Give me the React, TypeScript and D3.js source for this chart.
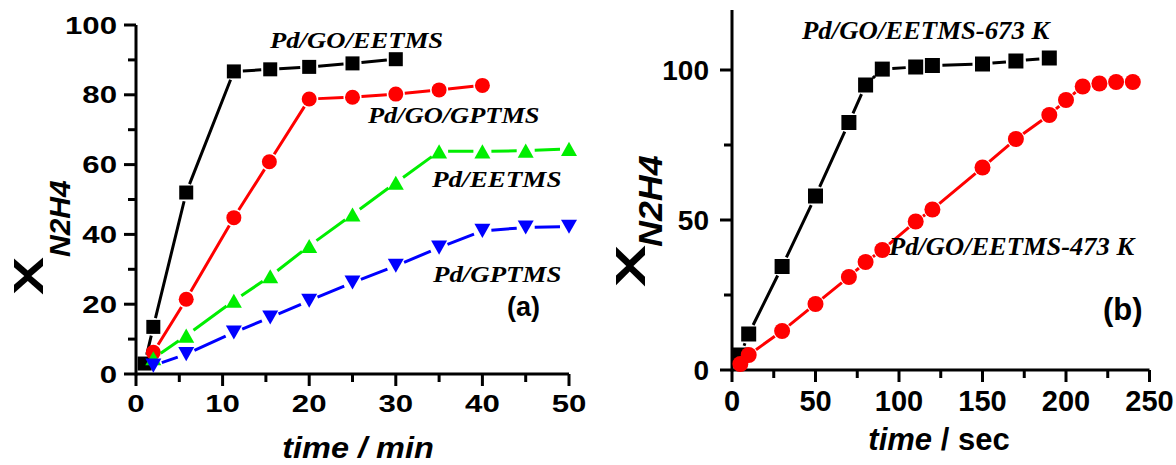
import React from "react";
import * as d3 from "d3";

// ---------- data: panel (a) ----------
const aTimeGOEETMS = [1, 2, 5.8, 11.3, 15.5, 20, 25, 30];
const aValGOEETMS = [3, 13.5, 52, 86.7, 87.3, 88, 89, 90.2];
const aTimeGOGPTMS = [2, 5.8, 11.3, 15.4, 20, 25, 30, 35, 40];
const aValGOGPTMS = [6.2, 21.4, 44.8, 60.8, 78.8, 79.3, 80.2, 81.4, 82.7];
const aTimeEETMS = [2, 5.8, 11.3, 15.5, 20, 25, 30, 35, 40, 45, 50];
const aValEETMS = [4.5, 11, 21, 28, 36.7, 45.7, 54.8, 63.8, 63.8, 64, 64.5];
const aTimeGPTMS = [2, 5.8, 11.3, 15.5, 20, 25, 30, 35, 40, 45, 50];
const aValGPTMS = [2.4, 5.7, 11.9, 16.2, 21, 26.2, 31, 36.2, 41, 42, 42.2];
const aXTicks = [0, 10, 20, 30, 40, 50];
const aYTicks = [0, 20, 40, 60, 80, 100];

// ---------- data: panel (b) ----------
const bTime673 = [5, 10, 30, 50, 70, 80, 90, 110, 120, 150, 170, 190];
const bVal673 = [5, 12, 34.5, 58, 82.5, 95, 100.3, 101, 101.5, 102, 103, 104];
const bTime473 = [5, 10, 30, 50, 70, 80, 90, 110, 120, 150, 170, 190, 200, 210, 220, 230, 240];
const bVal473 = [2, 5, 13, 22, 31, 36, 40, 49.5, 53.5, 67.5, 77, 85, 90, 94.5, 95.5, 96, 96];
const bXTicks = [0, 50, 100, 150, 200, 250];
const bYTicks = [0, 50, 100];

const SANS = "'Liberation Sans', Arial, sans-serif";
const SERIF = "'Liberation Serif', 'Times New Roman', serif";

type Sc = d3.ScaleLinear<number, number>;

function T(p: {
  x: number; y: number; sx?: number; sy?: number; rot?: number; anchor?: string;
  font?: string; size: number; italic?: boolean; children: React.ReactNode; fill?: string;
}) {
  const { x, y, sx = 1, sy = 1, rot = 0, anchor = "start", font = SANS, size, italic, children, fill = "#000" } = p;
  return (
    <text
      transform={`translate(${x},${y}) rotate(${rot}) scale(${sx},${sy})`}
      textAnchor={anchor}
      fontFamily={font}
      fontSize={size}
      fontWeight="bold"
      fontStyle={italic ? "italic" : "normal"}
      fill={fill}
    >
      {children}
    </text>
  );
}

function Marker({ kind, cx, cy, s, color }: { kind: string; cx: number; cy: number; s: number; color: string }) {
  if (kind === "square") return <rect x={cx - s / 2} y={cy - s / 2} width={s} height={s} fill={color} />;
  if (kind === "circle") return <circle cx={cx} cy={cy} r={s / 2} fill={color} />;
  const h = s * 0.88;
  if (kind === "up")
    return <path d={`M${cx},${cy - h / 2}L${cx + s / 2},${cy + h / 2}L${cx - s / 2},${cy + h / 2}Z`} fill={color} />;
  return <path d={`M${cx},${cy + h / 2}L${cx + s / 2},${cy - h / 2}L${cx - s / 2},${cy - h / 2}Z`} fill={color} />;
}

function Series({ xs, ys, x, y, color, kind, s, gap }: {
  xs: number[]; ys: number[]; x: Sc; y: Sc; color: string; kind: string; s: number; gap: number;
}) {
  const pts = xs.map((t, i) => [x(t), y(ys[i])]);
  const segs: string[] = [];
  for (let i = 0; i < pts.length - 1; i++) {
    const [x1, y1] = pts[i];
    const [x2, y2] = pts[i + 1];
    const L = Math.hypot(x2 - x1, y2 - y1);
    if (L <= 2 * gap + 1) continue;
    const ux = (x2 - x1) / L, uy = (y2 - y1) / L;
    segs.push(`M${x1 + ux * gap},${y1 + uy * gap}L${x2 - ux * gap},${y2 - uy * gap}`);
  }
  return (
    <g>
      <path d={segs.join("")} stroke={color} strokeWidth={3} fill="none" />
      {pts.map(([cx, cy], i) => (
        <Marker key={i} kind={kind} cx={cx} cy={cy} s={s} color={color} />
      ))}
    </g>
  );
}

function Axes({ x, y, xMajor, xMinor, yMajor, yMinor, yTop }: {
  x: Sc; y: Sc; xMajor: number[]; xMinor: number[]; yMajor: number[]; yMinor: number[]; yTop: number;
}) {
  const [x0, x1] = x.range();
  const y0 = y(0);
  return (
    <g stroke="#000" strokeWidth={3}>
      <line x1={x0} x2={x1} y1={y0} y2={y0} />
      <line x1={x0} x2={x0} y1={y0 + 1.5} y2={y(yTop)} />
      {xMajor.map((t) => <line key={"xM" + t} x1={x(t)} x2={x(t)} y1={y0} y2={y0 + 12} />)}
      {xMinor.map((t) => <line key={"xm" + t} x1={x(t)} x2={x(t)} y1={y0} y2={y0 + 8} />)}
      {yMajor.map((v) => <line key={"yM" + v} x1={x0 - 12} x2={x0} y1={y(v)} y2={y(v)} />)}
      {yMinor.map((v) => <line key={"ym" + v} x1={x0 - 8} x2={x0} y1={y(v)} y2={y(v)} />)}
    </g>
  );
}

export default function App() {
  // panel (a)
  const xa = d3.scaleLinear().domain([0, 50]).range([136, 569]);
  const ya = d3.scaleLinear().domain([0, 100]).range([374, 25]);
  const aXMinor = d3.range(5, 50, 10);
  const aYMinor = d3.range(10, 100, 20);
  // panel (b)
  const xb = d3.scaleLinear().domain([0, 250]).range([732, 1149.5]);
  const yb = d3.scaleLinear().domain([0, 120]).range([370, 10]);
  const bXMinor = d3.range(25, 250, 50);
  const bYMinor = [25, 75];

  return (
    <svg width={1176} height={465} style={{ position: "absolute", left: 0, top: 0, background: "#fff" }}>
      <rect width={1176} height={465} fill="#fff" />

      {/* ---------- panel (a) ---------- */}
      <Axes x={xa} y={ya} xMajor={aXTicks} xMinor={aXMinor} yMajor={aYTicks} yMinor={aYMinor} yTop={100} />
      {aYTicks.map((v) => (
        <T key={"ayl" + v} x={117} y={ya(v) + 8.5} sx={1.3} anchor="end" size={24}>{v}</T>
      ))}
      {aXTicks.map((t) => (
        <T key={"axl" + t} x={xa(t)} y={412} sx={1.3} anchor="middle" size={24}>{t}</T>
      ))}
      <T x={358} y={458} sx={1.12} anchor="middle" size={29} italic>time / min</T>
      <T x={43} y={295} rot={-90} sx={1.36} sy={1} size={42}>X</T>
      <T x={70} y={257} rot={-90} size={30} italic>N2H4</T>

      <Series xs={aTimeGOEETMS} ys={aValGOEETMS} x={xa} y={ya} color="#000000" kind="square" s={14} gap={9} />
      <Series xs={aTimeGOGPTMS} ys={aValGOGPTMS} x={xa} y={ya} color="#ff0000" kind="circle" s={15} gap={9} />
      <Series xs={aTimeEETMS} ys={aValEETMS} x={xa} y={ya} color="#00ee00" kind="up" s={16} gap={9} />
      <Series xs={aTimeGPTMS} ys={aValGPTMS} x={xa} y={ya} color="#0000ff" kind="down" s={16} gap={9} />

      <T x={270} y={48} sx={1.11} font={SERIF} size={24} italic>Pd/GO/EETMS</T>
      <T x={368} y={123} sx={1.1} font={SERIF} size={24} italic>Pd/GO/GPTMS</T>
      <T x={432} y={187} sx={1.13} font={SERIF} size={24} italic>Pd/EETMS</T>
      <T x={433} y={282} sx={1.12} font={SERIF} size={24} italic>Pd/GPTMS</T>
      <T x={507} y={316} size={27}>(a)</T>

      {/* ---------- panel (b) ---------- */}
      <Axes x={xb} y={yb} xMajor={bXTicks} xMinor={bXMinor} yMajor={bYTicks} yMinor={bYMinor} yTop={120} />
      {bYTicks.map((v) => (
        <T key={"byl" + v} x={709} y={yb(v) + 10} anchor="end" size={28}>{v}</T>
      ))}
      {bXTicks.map((t) => (
        <T key={"bxl" + t} x={xb(t)} y={411} anchor="middle" size={29}>{t}</T>
      ))}
      <T x={939} y={450} anchor="middle" size={31} italic>
        time <tspan fontStyle="normal">/ sec</tspan>
      </T>
      <T x={645} y={287} rot={-90} sx={1.5} sy={1} size={42}>X</T>
      <T x={662} y={247} rot={-90} sx={1.07} size={33.5} italic>N2H4</T>

      <Series xs={bTime673} ys={bVal673} x={xb} y={yb} color="#000000" kind="square" s={15} gap={10} />
      <Series xs={bTime473} ys={bVal473} x={xb} y={yb} color="#ff0000" kind="circle" s={16} gap={9} />

      <T x={802} y={39} sx={1.07} font={SERIF} size={25} italic>Pd/GO/EETMS-673 K</T>
      <T x={889} y={255} sx={1.06} font={SERIF} size={25} italic>Pd/GO/EETMS-473 K</T>
      <T x={1103} y={320} size={31}>(b)</T>
    </svg>
  );
}
